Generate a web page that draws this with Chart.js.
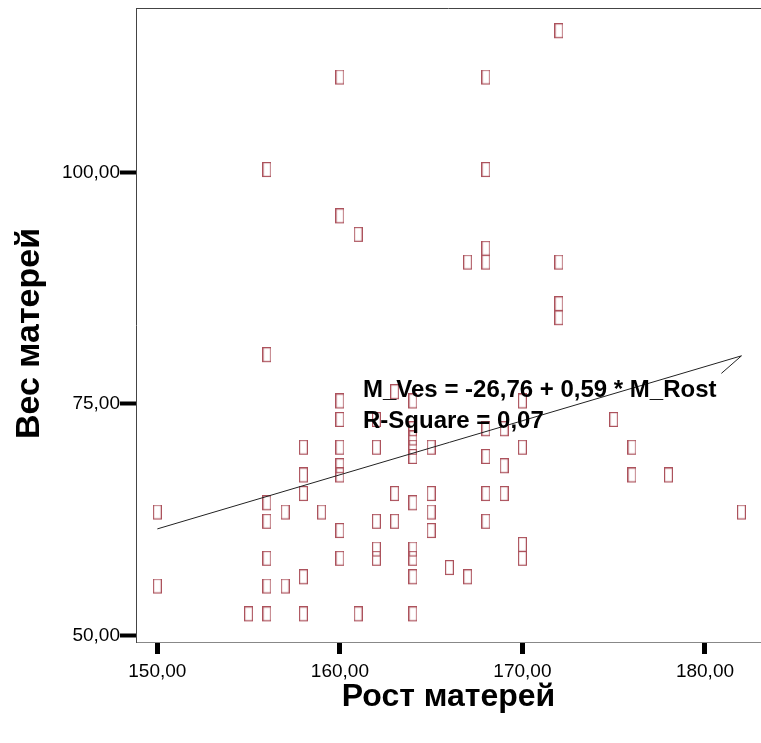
<!DOCTYPE html>
<html>
<head>
<meta charset="utf-8">
<script src="https://cdn.jsdelivr.net/npm/chart.js@4"></script>
<style>
    body { margin: 0; background: #ffffff; }
</style>
</head>
<body>
<canvas id="chart" width="761" height="743"></canvas>
<script>
// Рост матерей (x) / Вес матерей (y)
const rostMaterei = [
    160, 156, 160, 161, 172, 168, 168, 167, 168, 168, 172, 172, 172,
    156, 163, 164, 160, 160, 162, 164, 164, 164, 164, 158, 160, 162, 165,
    160, 160, 158, 158, 163, 156, 164, 150, 157, 159, 156, 162, 163, 160,
    156, 160, 162, 162, 164, 164, 158, 164, 150, 156, 157,
    155, 156, 158, 161, 164,
    170, 175, 168, 169, 170, 176, 168, 169, 176, 178, 165, 168, 169, 165, 182, 168, 165, 170, 170, 166, 167
]
const vesMaterei = [
    110, 100, 95, 93, 115, 110, 100, 90, 91.5, 90, 90, 85.5, 84,
    80, 76, 75, 75, 73, 73, 72, 71, 70, 69, 70, 70, 70, 70,
    68, 67, 67, 65, 65, 64, 64, 63, 63, 63, 62, 62, 62, 61,
    58, 58, 59, 58, 59, 58, 56, 56, 55, 55, 55,
    52, 52, 52, 52, 52,
    75, 73, 72, 72, 70, 70, 69, 68, 67, 67, 65, 65, 65, 63, 63, 62, 61, 59.5, 58, 57, 56
]
// fitted line as drawn (with its little arrow tail at the right end)
const fitRost = [150, 182, 180.9]
const fitVes = [61.5, 80.2, 78.3]

const xTicks = [150, 160, 170, 180]
const yTicks = [50, 75, 100]
const equationLines = ['M_Ves = -26,76 + 0,59 * M_Rost', 'R-Square = 0,07']

const fontFamily = '"Liberation Sans", Arial, sans-serif'
const formatValue = v => v.toFixed(2).replace('.', ',')

function makeMarker() {
    const c = document.createElement('canvas')
    c.width = 9
    c.height = 21
    const ctx = c.getContext('2d')
    ctx.strokeStyle = 'rgb(172, 82, 92)'
    ctx.lineWidth = 1.2
    ctx.strokeRect(0.6, 0.6, 7.8, 13.8)
    return c
}

const points = rostMaterei.map((x, i) => ({ x: x, y: vesMaterei[i] }))
const fitLine = fitRost.map((x, i) => ({ x: x, y: fitVes[i] }))

new Chart(document.getElementById('chart'), {
    type: 'scatter',
    data: {
        datasets: [
            {
                data: fitLine,
                showLine: true,
                borderColor: '#222222',
                borderWidth: 1,
                pointRadius: 0,
                order: 0
            },
            {
                data: points,
                pointStyle: makeMarker(),
                pointRadius: 7,
                order: 1
            }
        ]
    },
    options: {
        responsive: false,
        animation: false,
        layout: { autoPadding: false, padding: { top: 8, left: 0, right: 0, bottom: 0 } },
        plugins: {
            legend: { display: false },
            tooltip: { enabled: false }
        },
        scales: {
            x: {
                type: 'linear',
                min: 148.83,
                max: 183.07,
                afterBuildTicks: scale => { scale.ticks = xTicks.map(v => ({ value: v })) },
                afterFit: scale => {
                    scale.height = 101
                    scale.paddingLeft = 0
                    scale.paddingRight = 0
                },
                ticks: {
                    callback: v => formatValue(v),
                    color: '#000000',
                    font: { family: fontFamily, size: 19 },
                    padding: 6,
                    maxRotation: 0,
                    autoSkip: false
                },
                grid: {
                    drawOnChartArea: false,
                    tickLength: 12,
                    tickWidth: 5,
                    tickColor: '#000000'
                },
                border: { color: '#888888', width: 1 },
                title: {
                    display: true,
                    text: 'Рост матерей',
                    color: '#000000',
                    font: { family: fontFamily, size: 32, weight: 'bold', lineHeight: 1 },
                    padding: { top: 0, bottom: 30 }
                }
            },
            y: {
                type: 'linear',
                min: 49.28,
                max: 117.78,
                afterBuildTicks: scale => { scale.ticks = yTicks.map(v => ({ value: v })) },
                afterFit: scale => {
                    scale.width = 136
                    scale.paddingTop = 0
                    scale.paddingBottom = 0
                },
                ticks: {
                    callback: v => formatValue(v),
                    color: '#000000',
                    font: { family: fontFamily, size: 19, lineHeight: 0.8 },
                    padding: 0
                },
                grid: {
                    drawOnChartArea: false,
                    tickLength: 16,
                    tickWidth: 4,
                    tickColor: '#000000'
                },
                border: { color: '#444444', width: 1 },
                title: {
                    display: true,
                    // trailing en space nudges the centred title a little lower, as in the original
                    text: 'Вес матерей\u2002',
                    color: '#000000',
                    font: { family: fontFamily, size: 34, weight: 'bold', lineHeight: 1 },
                    padding: { top: 13, bottom: 0 }
                }
            }
        }
    },
    plugins: [{
        id: 'frameAndEquation',
        beforeDatasetsDraw: chart => {
            const { ctx, chartArea } = chart
            ctx.save()
            ctx.strokeStyle = '#444444'
            ctx.lineWidth = 1
            ctx.beginPath()
            ctx.moveTo(chartArea.left, chartArea.top + 0.5)
            ctx.lineTo(chartArea.right, chartArea.top + 0.5)
            ctx.stroke()
            ctx.restore()
        },
        afterDatasetsDraw: chart => {
            const { ctx, chartArea } = chart
            ctx.save()
            ctx.font = 'bold 24px ' + fontFamily
            ctx.fillStyle = '#000000'
            ctx.textBaseline = 'alphabetic'
            equationLines.forEach((line, i) => {
                ctx.fillText(line, chartArea.left + 227, chartArea.top + 389 + i * 31)
            })
            ctx.restore()
        }
    }]
})
</script>
</body>
</html>
